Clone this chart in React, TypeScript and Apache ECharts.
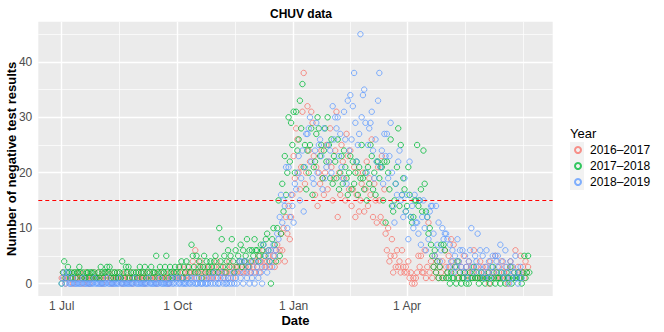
import React, { useEffect, useRef } from 'react';
import * as echarts from 'echarts';

// Day index 0 = 1 Jul of the season's first year; one value per day.
const seriesNames = ['2016–2017', '2017–2018', '2018–2019'];
const seriesColors = ['#F8766D', '#00BA38', '#619CFF'];

const season2016 = [
  1, 2, 1, 0, 1, 1, 2,
  1, 1, 0, 2, 1, 1, 1,
  2, 1, 1, 0, 1, 2, 1,
  1, 0, 1, 1, 2, 1, 1,
  1, 2, 1, 1, 0, 1, 2,
  1, 1, 2, 1, 1, 0, 1,
  2, 1, 1, 1, 2, 1, 0,
  1, 1, 2, 1, 1, 1, 2,
  0, 1, 1, 2, 1, 1, 1,
  1, 2, 1, 0, 1, 2, 1,
  1, 1, 1, 2, 1, 0, 1,
  2, 1, 1, 1, 2, 1, 1,
  1, 0, 2, 1, 1, 2, 1,
  1, 2, 1, 3, 1, 2, 1,
  2, 1, 3, 2, 1, 2, 4,
  2, 6, 1, 3, 2, 4, 2,
  1, 3, 2, 1, 2, 3, 1,
  2, 1, 3, 2, 4, 1, 2,
  3, 2, 1, 2, 3, 2, 1,
  4, 2, 3, 1, 2, 3, 2,
  3, 4, 2, 3, 2, 4, 3,
  2, 3, 3, 2, 4, 3, 2,
  4, 3, 5, 2, 4, 3, 6,
  4, 3, 4, 5, 3, 6, 4,
  5, 3, 6, 7, 4, 6, 9,
  6, 10, 4, 12, 9, 14, 8,
  12, 16, 23, 19, 28, 26, 20,
  17, 21, 31, 38, 18, 20, 32,
  24, 22, 31, 29, 23, 16, 21,
  14, 20, 18, 24, 19, 16, 20,
  25, 17, 22, 28, 21, 15, 19,
  24, 31, 12, 20, 16, 25, 22,
  19, 15, 27, 23, 17, 24, 14,
  17, 21, 12, 16, 20, 13, 15,
  18, 20, 13, 17, 22, 14, 19,
  16, 26, 12, 18, 15, 11, 21,
  15, 12, 23, 11, 17, 9, 6,
  10, 4, 5, 8, 2, 5, 3,
  6, 3, 4, 2, 6, 3, 2,
  3, 2, 4, 1, 2, 0, 1,
  0, 1, 2, 5, 3, 5, 2,
  2, 6, 1, 3, 11, 2, 4,
  1, 3, 5, 2, 4, 1, 3,
  2, 4, 1, 6, 3, 2, 5,
  3, 8, 4, 7, 2, 3, 1,
  4, 2, 3, 1, 5, 2, 3,
  2, 4, 1, 3, 2, 6, 1,
  3, 1, 2, 4, 1, 3, 2,
  1, 3, 2, 0, 4, 1, 2,
  2, 5, 1, 3, 2, 1, 4,
  1, 2, 3, 1, 0, 2, 4,
  3, 1, 2, 6, 1, 3, 2,
  5, 2, 3, 1, 4, 2, 3,
];

const season2017 = [
  0, 2, 4, 1, 2, 3, 2,
  1, 2, 1, 2, 1, 2, 2,
  3, 2, 1, 2, 1, 1, 2,
  2, 1, 2, 2, 1, 2, 1,
  1, 2, 1, 3, 2, 1, 2,
  2, 3, 2, 3, 1, 2, 1,
  2, 1, 2, 1, 2, 1, 4,
  2, 1, 3, 2, 3, 1, 2,
  1, 2, 1, 2, 1, 2, 3,
  2, 1, 2, 3, 1, 2, 1,
  2, 3, 1, 2, 2, 5, 2,
  1, 3, 2, 1, 2, 3, 5,
  2, 1, 3, 2, 1, 2, 3,
  2, 1, 3, 2, 4, 1, 3,
  2, 4, 1, 3, 2, 7, 5,
  3, 2, 5, 2, 4, 3, 1,
  3, 5, 2, 4, 3, 2, 4,
  3, 2, 4, 5, 3, 2, 10,
  4, 8, 3, 5, 2, 4, 6,
  3, 5, 8, 4, 2, 6, 3,
  5, 4, 7, 3, 6, 4, 5,
  8, 3, 6, 4, 6, 5, 8,
  6, 6, 4, 5, 7, 6, 7,
  5, 8, 9, 6, 4, 0, 8,
  10, 7, 4, 10, 15, 5, 9,
  18, 13, 23, 16, 20, 30, 22,
  29, 25, 31, 20, 31, 24, 26,
  33, 28, 36, 21, 25, 17, 24,
  20, 25, 28, 16, 21, 22, 27,
  30, 28, 23, 25, 19, 24, 28,
  22, 30, 25, 19, 26, 18, 23,
  22, 19, 26, 17, 20, 23, 18,
  24, 21, 19, 16, 20, 23, 17,
  22, 18, 20, 22, 16, 21, 19,
  25, 19, 17, 20, 15, 21, 18,
  25, 23, 17, 20, 16, 22, 22,
  19, 21, 21, 15, 22, 11, 22,
  20, 17, 26, 14, 13, 15, 18,
  21, 28, 14, 25, 16, 19, 17,
  13, 14, 21, 16, 12, 11, 12,
  15, 15, 25, 14, 15, 17, 13,
  24, 18, 13, 12, 9, 10, 7,
  5, 3, 6, 2, 4, 1, 3,
  7, 1, 7, 6, 1, 2, 1,
  0, 2, 1, 1, 3, 0, 4,
  1, 2, 0, 1, 1, 2, 0,
  1, 0, 2, 1, 1, 3, 1,
  2, 1, 0, 1, 2, 1, 1,
  0, 1, 1, 2, 0, 1, 3,
  1, 0, 2, 1, 1, 0, 2,
  1, 1, 0, 2, 1, 1, 3,
  0, 1, 2, 1, 1, 2, 1,
  1, 0, 2, 5, 1, 2, 5,
  2,
];

const season2018 = [
  0, 1, 2, 0, 1, 2, 0,
  0, 0, 1, 0, 0, 0, 0,
  0, 0, 0, 1, 0, 0, 0,
  0, 0, 0, 0, 0, 1, 0,
  0, 0, 0, 0, 0, 0, 0,
  0, 1, 0, 0, 0, 0, 0,
  0, 0, 0, 0, 1, 0, 0,
  0, 0, 0, 0, 0, 0, 0,
  0, 0, 1, 0, 0, 0, 0,
  0, 0, 0, 0, 0, 0, 1,
  0, 0, 0, 0, 0, 0, 0,
  0, 1, 0, 0, 0, 0, 0,
  0, 0, 0, 1, 0, 0, 1,
  0, 1, 0, 0, 1, 0, 0,
  0, 0, 1, 0, 0, 1, 0,
  1, 0, 0, 0, 1, 0, 0,
  0, 1, 0, 0, 0, 1, 0,
  1, 0, 2, 0, 1, 0, 0,
  1, 2, 0, 1, 0, 0, 1,
  0, 1, 0, 2, 0, 1, 0,
  2, 4, 1, 4, 0, 2, 4,
  1, 3, 0, 2, 1, 4, 0,
  2, 3, 1, 4, 2, 0, 7,
  3, 5, 2, 6, 4, 6, 3,
  7, 5, 6, 9, 8, 12, 16,
  11, 15, 14, 21, 10, 21, 12,
  16, 14, 11, 18, 17, 20, 23,
  15, 19, 24, 13, 21, 27, 27,
  28, 30, 22, 19, 18, 24, 29,
  20, 25, 26, 23, 17, 28, 19,
  21, 25, 22, 24, 20, 32, 26,
  30, 28, 30, 23, 27, 21, 19,
  31, 26, 18, 33, 24, 34, 26,
  32, 38, 29, 22, 25, 27, 45,
  30, 34, 35, 29, 20, 25, 28,
  29, 31, 24, 19, 26, 22, 33,
  38, 21, 24, 18, 27, 23, 27,
  19, 23, 29, 20, 14, 11, 18,
  16, 22, 24, 15, 16, 12, 19,
  13, 16, 8, 22, 12, 14, 10,
  16, 11, 11, 9, 15, 7, 12,
  15, 10, 6, 12, 8, 13, 14,
  14, 9, 5, 14, 7, 11, 4,
  6, 10, 8, 9, 9, 8, 3,
  7, 4, 6, 2, 5, 3, 8,
  4, 6, 3, 6, 2, 5, 3,
  1, 4, 6, 10, 3, 2, 5,
  4, 9, 3, 6, 2, 5, 1,
  3, 6, 2, 4, 1, 3, 5,
  2, 5, 4, 5, 3, 7, 2,
  4, 1, 6, 3, 2, 0, 4,
  1, 3, 2, 5, 1, 0, 2,
  3, 1,
];

const seriesValues = [season2016, season2017, season2018];

const xTickDays = [0, 92, 184, 274];
const xTickLabels = ['1 Jul', '1 Oct', '1 Jan', '1 Apr'];
const xMinorDays = [46, 138, 229, 320, 366];
const yTicks = [0, 10, 20, 30, 40];
const yMinor = [5, 15, 25, 35, 45];
const threshold = 15;

const FONT = '"Liberation Sans", Arial, Helvetica, sans-serif';

export default function App() {
  const ref = useRef<HTMLDivElement>(null);

  useEffect(() => {
    if (!ref.current) return;
    const chart = echarts.init(ref.current, undefined, { renderer: 'svg' });

    const maxDay = Math.max(...seriesValues.map((s) => s.length - 1));
    const maxVal = Math.max(...seriesValues.map((s) => Math.max(...s)));
    const xMin = -0.05 * maxDay;
    const xMax = maxDay * 1.05;
    const yMin = -0.05 * maxVal;
    const yMax = maxVal * 1.05;

    const vLine = (d: number) => ({ coords: [[d, yMin], [d, yMax]] });
    const hLine = (v: number) => ({ coords: [[xMin, v], [xMax, v]] });

    const scatterSeries = seriesValues.map((vals, i) => ({
      type: 'scatter',
      name: seriesNames[i],
      data: vals.map((v, d) => [d, v]),
      symbol: 'circle',
      symbolSize: 5.4,
      z: 2,
      itemStyle: {
        color: 'rgba(255,255,255,0)',
        borderColor: seriesColors[i],
        borderWidth: 1,
      },
      emphasis: { disabled: true },
    }));

    chart.setOption({
      animation: false,
      title: {
        text: 'CHUV data',
        left: 296,
        top: 3,
        textAlign: 'center',
        textStyle: { fontSize: 12, fontWeight: 'bold', color: '#000', fontFamily: FONT },
      },
      grid: {
        left: 38.3,
        right: 111.3,
        top: 21.7,
        bottom: 36,
        containLabel: false,
        outerBoundsMode: 'none',
        show: true,
        backgroundColor: '#EBEBEB',
        borderWidth: 0,
      },
      legend: {
        data: seriesNames,
        orient: 'vertical',
        left: 574,
        top: 142,
        padding: 0,
        itemGap: 0,
        itemWidth: 6,
        itemHeight: 6,
        selectedMode: false,
        textStyle: {
          fontSize: 12,
          color: '#000',
          fontFamily: FONT,
          lineHeight: 16,
          padding: [0, 0, 0, 4],
        },
      },
      graphic: [
        { type: 'rect', left: 570, top: 142, shape: { width: 14, height: 16 }, style: { fill: '#F2F2F2' }, z: 0 },
        { type: 'rect', left: 570, top: 158, shape: { width: 14, height: 16 }, style: { fill: '#F2F2F2' }, z: 0 },
        { type: 'rect', left: 570, top: 174, shape: { width: 14, height: 16 }, style: { fill: '#F2F2F2' }, z: 0 },
        {
          type: 'text',
          left: 570,
          top: 127,
          style: { text: 'Year', fontSize: 13, fill: '#000', font: `13px ${FONT}` },
        },
      ],
      xAxis: {
        type: 'value',
        min: xMin,
        max: xMax,
        splitLine: { show: false },
        axisLine: { show: false },
        axisTick: {
          show: true,
          customValues: xTickDays,
          length: 3.5,
          lineStyle: { color: '#333333', width: 1 },
        },
        axisLabel: {
          customValues: xTickDays,
          formatter: (v: number) => {
            const i = xTickDays.indexOf(v);
            return i >= 0 ? xTickLabels[i] : '';
          },
          color: '#4D4D4D',
          fontSize: 12,
          margin: 4,
          fontFamily: FONT,
        },
        name: 'Date',
        nameLocation: 'middle',
        nameGap: 18,
        nameMoveOverlap: false,
        nameTextStyle: { fontWeight: 'bold', fontSize: 13, color: '#000', fontFamily: FONT },
      },
      yAxis: {
        type: 'value',
        min: yMin,
        max: yMax,
        splitLine: { show: false },
        axisLine: { show: false },
        axisTick: {
          show: true,
          customValues: yTicks,
          length: 3.5,
          lineStyle: { color: '#333333', width: 1 },
        },
        axisLabel: {
          customValues: yTicks,
          color: '#4D4D4D',
          fontSize: 12,
          margin: 6,
          fontFamily: FONT,
        },
        name: 'Number of negative test results',
        nameLocation: 'middle',
        nameGap: 20,
        nameMoveOverlap: false,
        nameRotate: 90,
        nameTextStyle: { fontWeight: 'bold', fontSize: 13, color: '#000', fontFamily: FONT },
      },
      series: [
        {
          type: 'lines',
          name: 'minor-grid',
          coordinateSystem: 'cartesian2d',
          silent: true,
          z: 1,
          lineStyle: { color: '#FFFFFF', width: 0.7, opacity: 1 },
          data: [...xMinorDays.map(vLine), ...yMinor.map(hLine)],
        },
        {
          type: 'lines',
          name: 'major-grid',
          coordinateSystem: 'cartesian2d',
          silent: true,
          z: 1,
          lineStyle: { color: '#FFFFFF', width: 1.4, opacity: 1 },
          data: [...xTickDays.map(vLine), ...yTicks.map(hLine)],
        },
        ...scatterSeries,
        {
          type: 'lines',
          name: 'threshold',
          coordinateSystem: 'cartesian2d',
          silent: true,
          z: 4,
          lineStyle: { color: '#FF0000', width: 1.2, opacity: 1, type: [4, 3] },
          data: [hLine(threshold)],
        },
      ],
    });

    return () => chart.dispose();
  }, []);

  return (
    <div
      ref={ref}
      style={{ position: 'absolute', left: 0, top: 0, width: 664, height: 332 }}
    />
  );
}
